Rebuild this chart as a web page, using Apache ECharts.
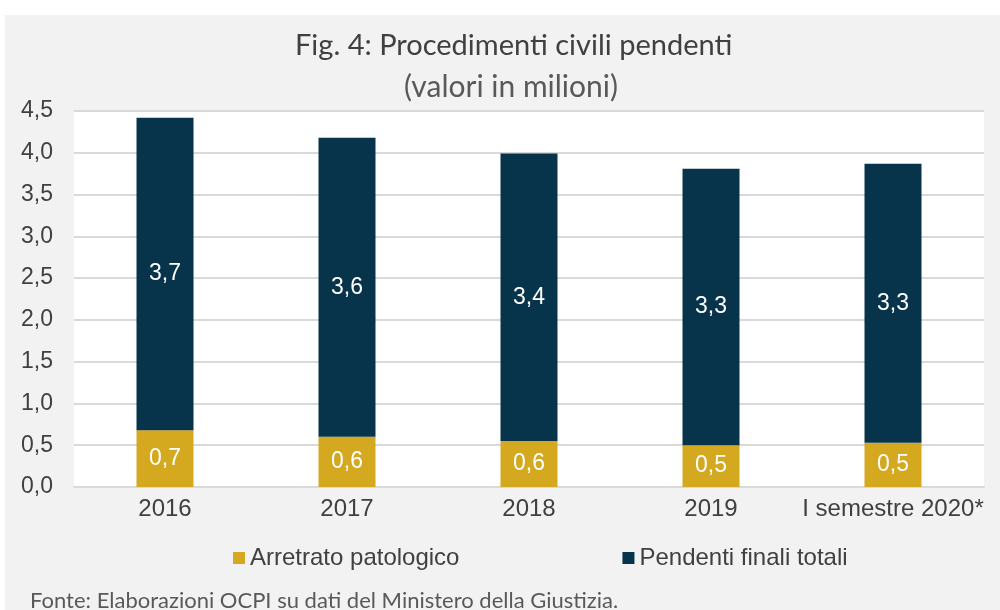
<!DOCTYPE html>
<html>
<head>
<meta charset="utf-8">
<script src="https://cdn.jsdelivr.net/npm/echarts@6/dist/echarts.min.js"></script>
<style>
  html, body { margin: 0; padding: 0; background: #ffffff; }
  #chart { width: 1000px; height: 610px; }
</style>
</head>
<body>
<div id="chart"></div>
<script>
const categories = ['2016', '2017', '2018', '2019', 'I semestre 2020*'];
const arretrato = [0.68, 0.60, 0.55, 0.50, 0.53];
const pendenti = [3.74, 3.58, 3.44, 3.31, 3.34];
const seriesNames = ['Arretrato patologico', 'Pendenti finali totali'];

const fmt = v => v.toFixed(1).replace('.', ',');
const chart = echarts.init(document.getElementById('chart'));
chart.setOption({
  backgroundColor: '#ffffff',
  animation: false,
  graphic: [
    { type: 'rect', z: -10, shape: { x: 5, y: 15, width: 995, height: 595 }, style: { fill: '#f2f2f2' } },
    { type: 'text', left: 295, top: 31, style: { text: 'Fig. 4: Procedimenti civili pendenti', font: '29px Lato', fill: '#404040' } },
    { type: 'text', left: 404, top: 72, style: { text: '(valori in milioni)', font: '30px Lato', fill: '#595959' } },
    { type: 'text', left: 30, top: 590, style: { text: 'Fonte: Elaborazioni OCPI su dati del Ministero della Giustizia.', font: '22px Lato', fill: '#595959' } }
  ],
  grid: { left: 74, right: 16, top: 111, bottom: 123, show: true, backgroundColor: '#ffffff', borderWidth: 0 },
  legend: {
    data: seriesNames,
    left: 228, top: 541,
    icon: 'rect', itemWidth: 12, itemHeight: 12, itemGap: 163,
    textStyle: { fontFamily: 'Liberation Sans', fontSize: 24, color: '#404040' }
  },
  xAxis: {
    type: 'category', data: categories,
    axisTick: { show: false },
    axisLine: { lineStyle: { color: '#d9d9d9', width: 2 } },
    axisLabel: { interval: 0, fontFamily: 'Liberation Sans', fontSize: 24, color: '#404040', margin: 10 }
  },
  yAxis: {
    type: 'value', min: 0, max: 4.5, interval: 0.5,
    axisLabel: { fontFamily: 'Liberation Sans', fontSize: 23, color: '#404040', margin: 21, formatter: fmt },
    splitLine: { lineStyle: { color: '#d9d9d9', width: 2 } },
    axisLine: { show: false }, axisTick: { show: false }
  },
  series: [
    {
      name: seriesNames[0], type: 'bar', stack: 'tot', data: arretrato, barWidth: 57,
      itemStyle: { color: '#d4a81f' },
      label: { show: true, position: 'inside', color: '#ffffff', fontFamily: 'Liberation Sans', fontSize: 23, formatter: p => fmt(p.value) }
    },
    {
      name: seriesNames[1], type: 'bar', stack: 'tot', data: pendenti, barWidth: 57,
      itemStyle: { color: '#08344b' },
      label: { show: true, position: 'inside', color: '#ffffff', fontFamily: 'Liberation Sans', fontSize: 23, formatter: p => fmt(p.value) }
    }
  ]
});
</script>
</body>
</html>
